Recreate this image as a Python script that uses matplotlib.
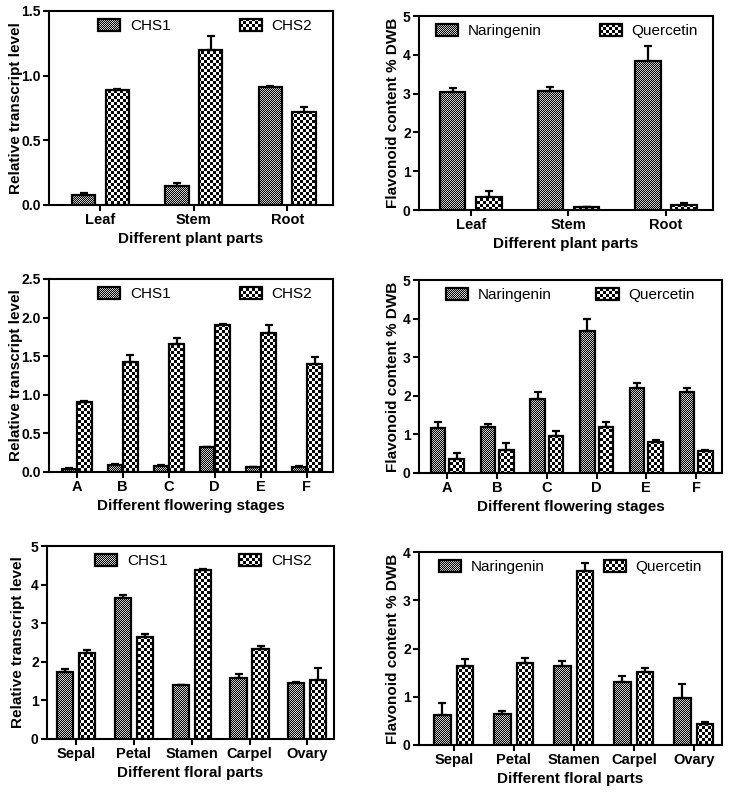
import numpy as np
import matplotlib
matplotlib.use("Agg")
import matplotlib.pyplot as plt

plt.rcParams['font.family'] = ['Liberation Sans', 'DejaVu Sans']
plt.rcParams['font.weight'] = 'bold'
plt.rcParams['axes.labelweight'] = 'bold'

# --- data ---
plant_parts = ['Leaf', 'Stem', 'Root']
chs1_plant = [0.08, 0.15, 0.91]
chs1_plant_err = [0.01, 0.02, 0.01]
chs2_plant = [0.89, 1.20, 0.72]
chs2_plant_err = [0.01, 0.11, 0.04]
nar_plant = [3.05, 3.07, 3.84]
nar_plant_err = [0.10, 0.10, 0.38]
que_plant = [0.34, 0.07, 0.14]
que_plant_err = [0.15, 0.02, 0.05]

stages = ['A', 'B', 'C', 'D', 'E', 'F']
chs1_stage = [0.04, 0.09, 0.08, 0.32, 0.06, 0.07]
chs1_stage_err = [0.01, 0.01, 0.01, 0.01, 0.01, 0.01]
chs2_stage = [0.91, 1.42, 1.66, 1.91, 1.80, 1.40]
chs2_stage_err = [0.01, 0.09, 0.07, 0.01, 0.10, 0.09]
nar_stage = [1.17, 1.19, 1.92, 3.68, 2.21, 2.11]
nar_stage_err = [0.15, 0.07, 0.17, 0.31, 0.11, 0.10]
que_stage = [0.36, 0.59, 0.97, 1.19, 0.80, 0.57]
que_stage_err = [0.16, 0.20, 0.11, 0.12, 0.05, 0.03]

floral_parts = ['Sepal', 'Petal', 'Stamen', 'Carpel', 'Ovary']
chs1_floral = [1.74, 3.64, 1.39, 1.59, 1.45]
chs1_floral_err = [0.07, 0.09, 0.01, 0.10, 0.03]
chs2_floral = [2.24, 2.63, 4.37, 2.33, 1.54]
chs2_floral_err = [0.07, 0.08, 0.03, 0.08, 0.30]
nar_floral = [0.62, 0.64, 1.63, 1.30, 0.98]
nar_floral_err = [0.26, 0.07, 0.11, 0.14, 0.29]
que_floral = [1.63, 1.70, 3.60, 1.51, 0.44]
que_floral_err = [0.15, 0.10, 0.18, 0.09, 0.04]

W, H = 729, 794
fig = plt.figure(figsize=(W / 100, H / 100), dpi=100)

textured = []  # (patch, kind)


def panel(box, cats, s1, e1, s2, e2, names, ylim, yticks, yfmt, ylabel, xlabel,
          xlim, width, off, legx, colsp, ylab_off):
    x0, y0, x1, y1 = box
    wpx, hpx = x1 - x0, y1 - y0
    ax = fig.add_axes([x0 / W, 1 - y1 / H, wpx / W, hpx / H])
    ax.set_facecolor('none')
    x = np.arange(len(cats))
    b1 = ax.bar(x - off, s1, width, facecolor='none', edgecolor='k', linewidth=1.6,
                label=names[0], zorder=2)
    b2 = ax.bar(x + off, s2, width, facecolor='none', edgecolor='k', linewidth=1.6,
                label=names[1], zorder=2)
    z = np.zeros(len(cats))
    ax.errorbar(x - off, s1, yerr=[z, e1], fmt='none', ecolor='k', elinewidth=1.6,
                capsize=3, capthick=1.6, zorder=3)
    ax.errorbar(x + off, s2, yerr=[z, e2], fmt='none', ecolor='k', elinewidth=1.6,
                capsize=3, capthick=1.6, zorder=3)
    for p in b1:
        textured.append((p, 'fine'))
    for p in b2:
        textured.append((p, 'coarse'))
    ax.set_xlim(*xlim)
    ax.set_ylim(*ylim)
    ax.set_yticks(yticks)
    ax.set_yticklabels([yfmt.format(v) for v in yticks])
    ax.set_xticks(x)
    ax.set_xticklabels(cats)
    ax.tick_params(axis='y', direction='out', length=4, width=1.5, labelsize=10, pad=2)
    ax.tick_params(axis='x', direction='out', length=4, width=1.5, labelsize=10.5, pad=2)
    for s in ax.spines.values():
        s.set_linewidth(1.5)
    ax.set_ylabel(ylabel, fontsize=11)
    ax.yaxis.set_label_coords(-ylab_off / wpx, 0.5)
    ax.set_xlabel(xlabel, fontsize=11)
    ax.xaxis.set_label_coords(0.5, -27 / hpx)
    leg = ax.legend(loc='center', bbox_to_anchor=(legx, 1 - 15 / hpx), ncol=2,
                    frameon=False, columnspacing=colsp, handlelength=1.45,
                    handleheight=0.8, handletextpad=0.65, borderaxespad=0,
                    prop={'size': 11, 'weight': 'normal'})
    hs = leg.legend_handles
    for h in hs:
        h.set_linewidth(1.6)
    textured.append((hs[0], 'fine'))
    textured.append((hs[1], 'coarse'))
    return ax


ylab_rel = 'Relative transcript level'
ylab_fla = 'Flavonoid content % DWB'

panel((49, 11, 333, 205), plant_parts, chs1_plant, chs1_plant_err, chs2_plant, chs2_plant_err,
      ['CHS1', 'CHS2'], (0, 1.5), [0, 0.5, 1.0, 1.5], '{:.1f}', ylab_rel,
      'Different plant parts', (-0.55, 2.49), 0.25, 0.18, 0.55, 4.5, 26)
panel((419, 16, 713, 210), plant_parts, nar_plant, nar_plant_err, que_plant, que_plant_err,
      ['Naringenin', 'Quercetin'], (0, 5), [0, 1, 2, 3, 4, 5], '{:d}', ylab_fla,
      'Different plant parts', (-0.53, 2.48), 0.26, 0.185, 0.503, 3.8, 19)
panel((49, 279, 333, 472), stages, chs1_stage, chs1_stage_err, chs2_stage, chs2_stage_err,
      ['CHS1', 'CHS2'], (0, 2.5), [0, 0.5, 1.0, 1.5, 2.0, 2.5], '{:.1f}', ylab_rel,
      'Different flowering stages', (-0.6, 5.57), 0.31, 0.17, 0.55, 4.5, 26)
panel((419, 280, 722, 473), stages, nar_stage, nar_stage_err, que_stage, que_stage_err,
      ['Naringenin', 'Quercetin'], (0, 5), [0, 1, 2, 3, 4, 5], '{:d}', ylab_fla,
      'Different flowering stages', (-0.57, 5.52), 0.29, 0.187, 0.50, 2.9, 19)
panel((47, 546, 334, 739), floral_parts, chs1_floral, chs1_floral_err, chs2_floral, chs2_floral_err,
      ['CHS1', 'CHS2'], (0, 5), [0, 1, 2, 3, 4, 5], '{:d}', ylab_rel,
      'Different floral parts', (-0.5, 4.46), 0.28, 0.19, 0.545, 4.7, 22)
panel((419, 552, 722, 745), floral_parts, nar_floral, nar_floral_err, que_floral, que_floral_err,
      ['Naringenin', 'Quercetin'], (0, 4), [0, 1, 2, 3, 4], '{:d}', ylab_fla,
      'Different floral parts', (-0.58, 4.47), 0.27, 0.19, 0.50, 3.85, 19)

# checker textures, pixel aligned, clipped to each bar / legend handle
fig.canvas.draw()
yy, xx = np.mgrid[0:H, 0:W]
# fine: 1 px checker, slightly darkened light cells
fine = np.where((yy + xx) % 2 == 0, 205, 0)
coarse = (((yy // 3) + (xx // 3)) % 2) * 255
tex = {
    'fine': np.dstack([fine.astype(np.uint8)] * 3),
    'coarse': np.dstack([coarse.astype(np.uint8)] * 3),
}
for patch, kind in textured:
    im = fig.figimage(tex[kind], xo=0, yo=0, origin='upper', zorder=-1)
    im.set_clip_path(patch)

fig.savefig('out.png', dpi=100)
